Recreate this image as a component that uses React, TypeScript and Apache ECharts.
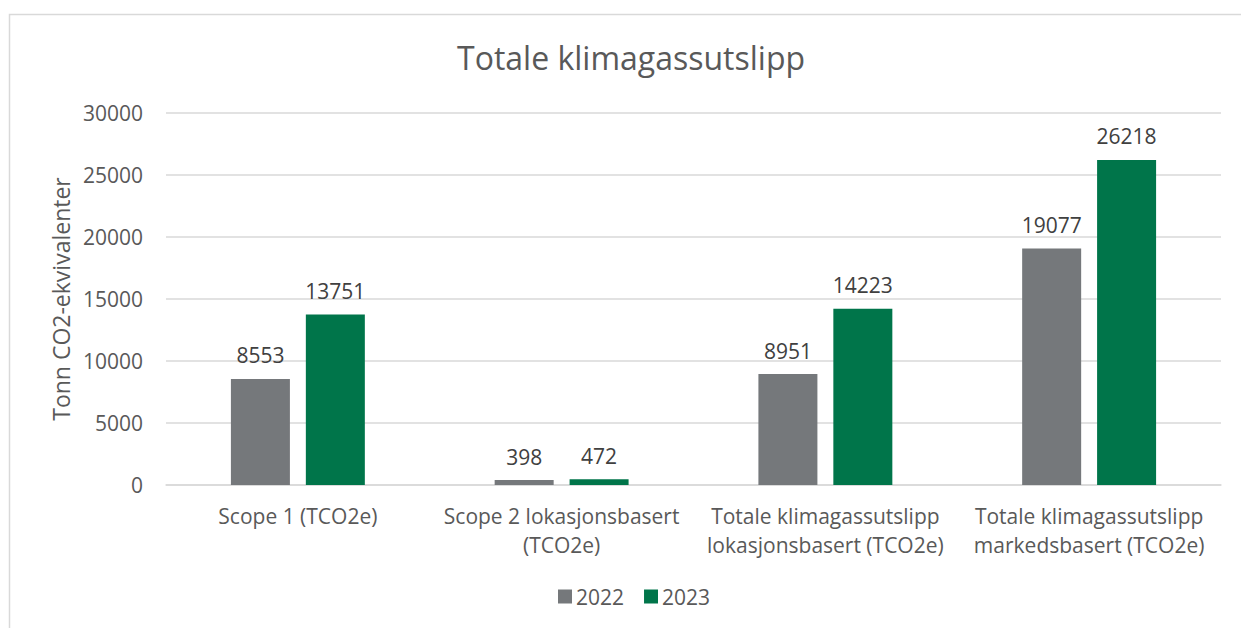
import React, { useEffect, useRef } from "react";
import * as echarts from "echarts";

const categories = [
  "Scope 1 (TCO2e)",
  "Scope 2 lokasjonsbasert\n(TCO2e)",
  "Totale klimagassutslipp\nlokasjonsbasert (TCO2e)",
  "Totale klimagassutslipp\nmarkedsbasert (TCO2e)",
];
const values2022 = [8553, 398, 8951, 19077];
const values2023 = [13751, 472, 14223, 26218];
const seriesNames = ["2022", "2023"];
const yTicks = { min: 0, max: 30000, interval: 5000 };

const FONT = "'Open Sans', 'Noto Sans', sans-serif";

export default function App() {
  const ref = useRef<HTMLDivElement>(null);
  useEffect(() => {
    if (!ref.current) return;
    const chart = echarts.init(ref.current, undefined, { renderer: "svg" });
    const label = {
      show: true,
      position: "top",
      distance: 13,
      color: "#404040",
      fontSize: 21,
      fontFamily: FONT,
    };
    chart.setOption({
      animation: false,
      backgroundColor: "#ffffff",
      textStyle: { fontFamily: FONT },
      title: {
        text: "Totale klimagassutslipp",
        left: 452,
        top: 36,
        textStyle: { fontSize: 32, fontWeight: "normal", color: "#595959", fontFamily: FONT },
      },
      graphic: [
        {
          type: "rect",
          shape: { x: 9.5, y: 14.5, width: 1400, height: 800 },
          style: { fill: "none", stroke: "#d9d9d9", lineWidth: 1.5 },
          silent: true,
          z: -10,
        },
      ],
      legend: {
        bottom: 16,
        left: 553,
        itemWidth: 14,
        itemHeight: 14,
        itemGap: 20,
        icon: "rect",
        textStyle: { fontSize: 21, color: "#595959", fontFamily: FONT, padding: [0, 0, 0, -1] },
        data: seriesNames,
      },
      grid: { left: 166, right: 20, top: 113, bottom: 143 },
      xAxis: {
        type: "category",
        data: categories,
        axisLine: { lineStyle: { color: "#d9d9d9", width: 1.5 } },
        axisTick: { show: false },
        axisLabel: {
          color: "#595959",
          fontSize: 21,
          lineHeight: 29,
          margin: 16,
          interval: 0,
          fontFamily: FONT,
        },
      },
      yAxis: {
        type: "value",
        min: yTicks.min,
        max: yTicks.max,
        interval: yTicks.interval,
        name: "Tonn CO2-ekvivalenter",
        nameLocation: "middle",
        nameGap: 94,
        nameTextStyle: { fontSize: 23, color: "#595959", fontFamily: FONT },
        axisLine: { show: false },
        axisTick: { show: false },
        splitLine: { lineStyle: { color: "#d9d9d9", width: 1.5 } },
        axisLabel: {
          color: "#595959",
          fontSize: 21,
          margin: 23,
          fontFamily: FONT,
          formatter: (v: number) => String(v),
        },
      },
      series: [
        {
          name: seriesNames[0],
          type: "bar",
          data: values2022,
          barWidth: 59,
          barGap: "27%",
          itemStyle: { color: "#75787b" },
          label,
        },
        {
          name: seriesNames[1],
          type: "bar",
          data: values2023,
          barWidth: 59,
          barGap: "27%",
          itemStyle: { color: "#00754a" },
          label,
        },
      ],
    });
    return () => chart.dispose();
  }, []);
  return (
    <div
      ref={ref}
      style={{ position: "absolute", left: 0, top: 0, width: 1241, height: 628 }}
    />
  );
}
